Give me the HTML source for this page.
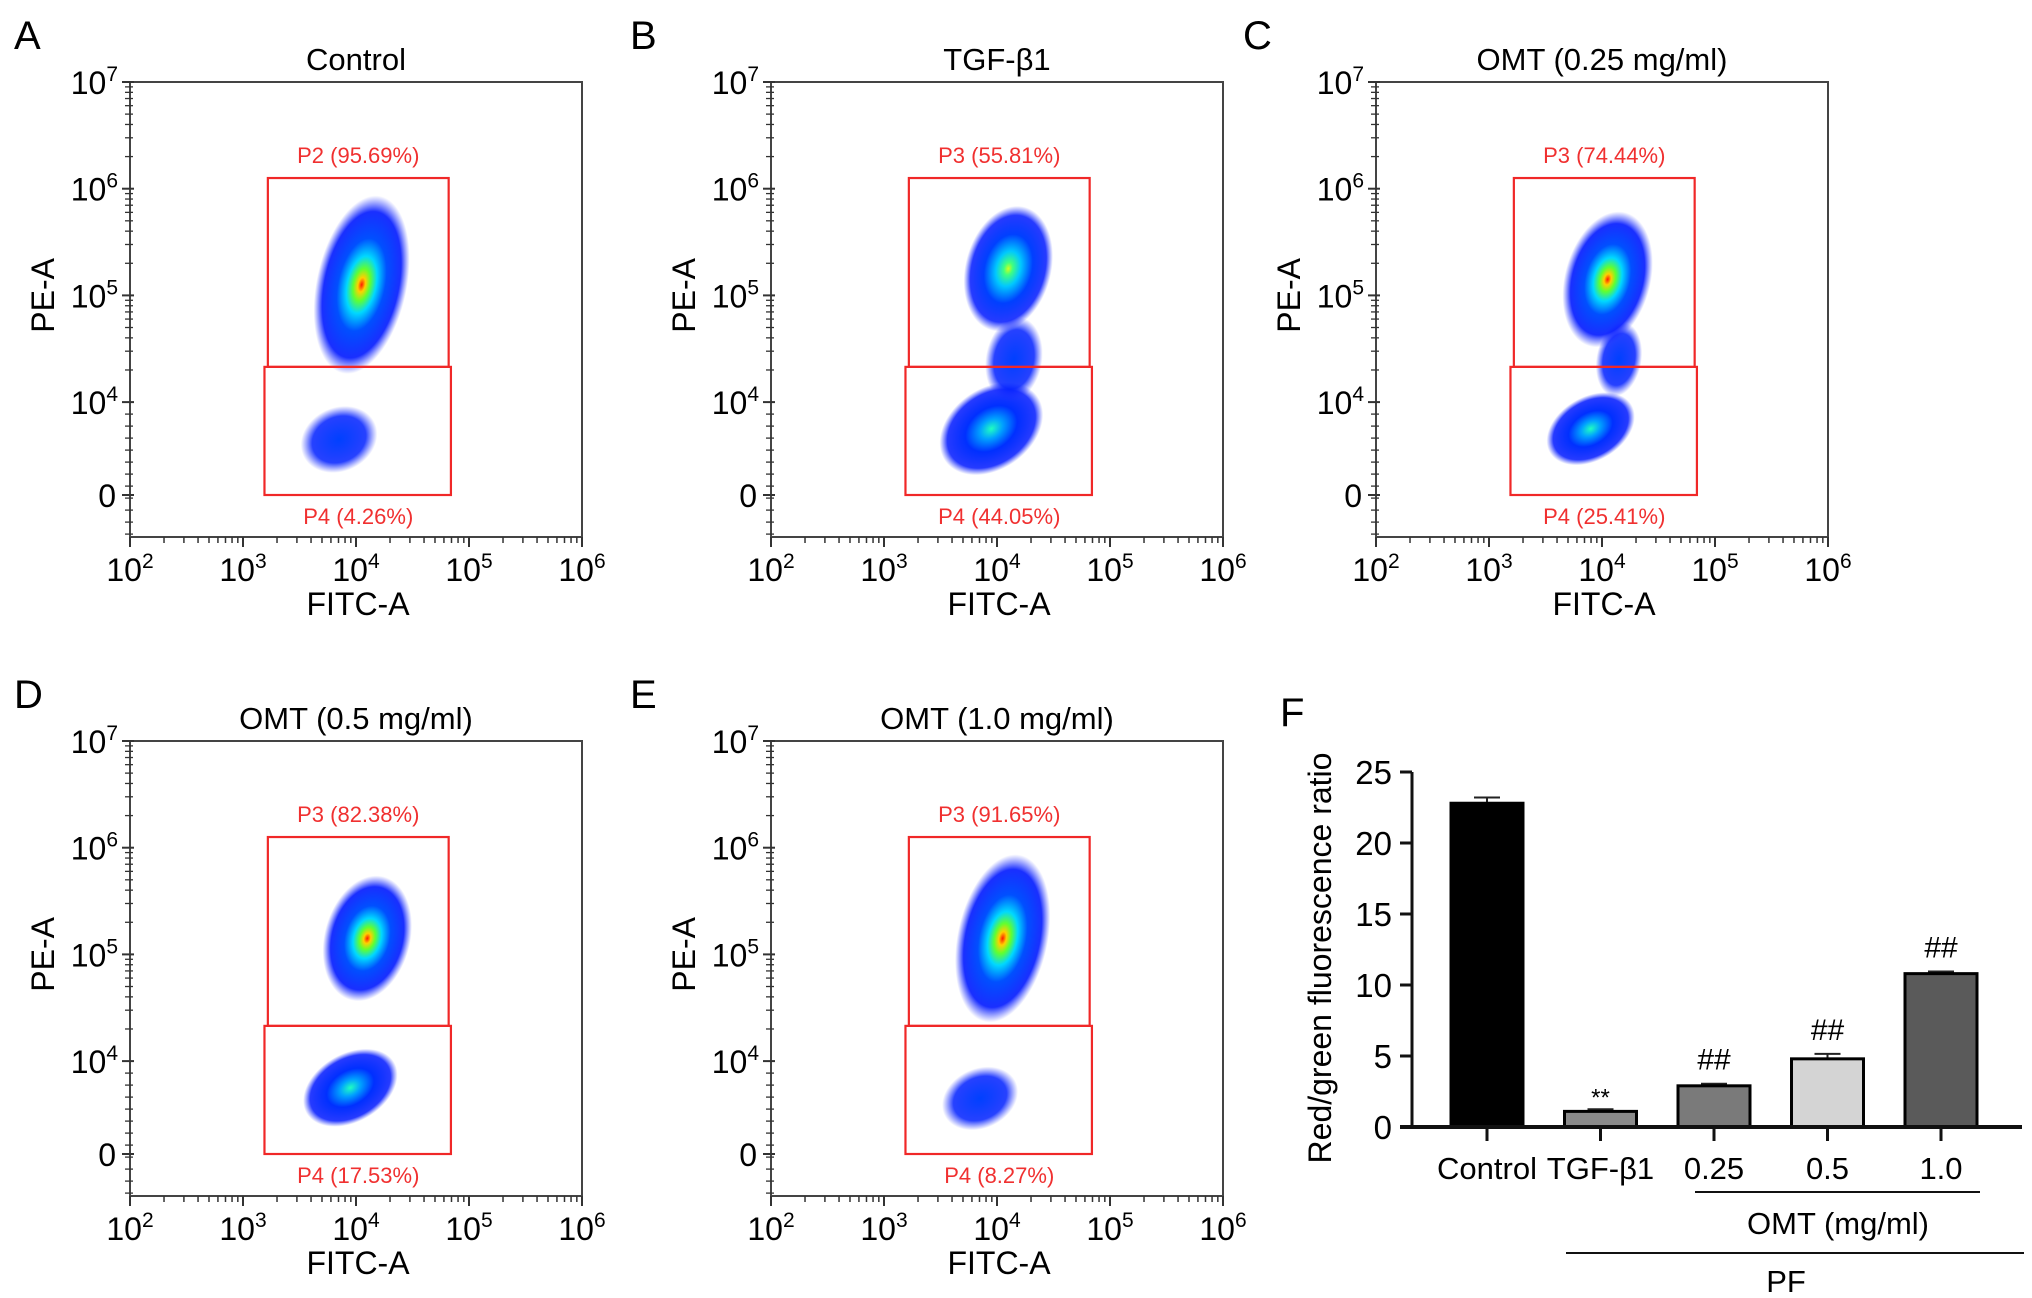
<!DOCTYPE html>
<html><head><meta charset="utf-8">
<style>
html,body{margin:0;padding:0;background:#fff;}
svg{display:block;font-family:"Liberation Sans",Arial,sans-serif;}
</style></head>
<body>
<svg id="fig" width="2032" height="1298" viewBox="0 0 2032 1298" xmlns="http://www.w3.org/2000/svg">
<defs>
<radialGradient id="g-hot"><stop offset="0" stop-color="#ff1a00"/><stop offset="0.08" stop-color="#ffd000"/><stop offset="0.18" stop-color="#60ff30"/><stop offset="0.32" stop-color="#00d8ff"/><stop offset="0.52" stop-color="#0050ff"/><stop offset="0.82" stop-color="#0018ff" stop-opacity="0.9"/><stop offset="1" stop-color="#2030ff" stop-opacity="0"/></radialGradient>
<radialGradient id="g-warm"><stop offset="0" stop-color="#d0ff20"/><stop offset="0.1" stop-color="#40ff80"/><stop offset="0.28" stop-color="#00c8ff"/><stop offset="0.55" stop-color="#0040ff"/><stop offset="0.85" stop-color="#0018ff" stop-opacity="0.85"/><stop offset="1" stop-color="#2030ff" stop-opacity="0"/></radialGradient>
<radialGradient id="g-cool"><stop offset="0" stop-color="#20ffc0"/><stop offset="0.22" stop-color="#00a0ff"/><stop offset="0.5" stop-color="#0030ff"/><stop offset="0.85" stop-color="#0018ff" stop-opacity="0.85"/><stop offset="1" stop-color="#2030ff" stop-opacity="0"/></radialGradient>
<radialGradient id="g-blue"><stop offset="0" stop-color="#0040ff"/><stop offset="0.7" stop-color="#0020ff" stop-opacity="0.85"/><stop offset="1" stop-color="#2030ff" stop-opacity="0"/></radialGradient>
</defs>
<g id="root"></g>
</svg>
<script>
// ---- Flow cytometry data (log10 units) ----
const panelKeys = ['A','B','C','D','E'];
const panelTitles = ['Control','TGF-β1','OMT (0.25 mg/ml)','OMT (0.5 mg/ml)','OMT (1.0 mg/ml)'];
const upperLabels = ['P2 (95.69%)','P3 (55.81%)','P3 (74.44%)','P3 (82.38%)','P3 (91.65%)'];
const lowerLabels = ['P4 (4.26%)','P4 (44.05%)','P4 (25.41%)','P4 (17.53%)','P4 (8.27%)'];
// clusters per panel: [logX, logY, spreadX(dec), spreadY(dec), tiltDeg, gradient]
const clustersA = [[3.85,3.65,0.35,0.3,-25,'blue'],[4.05,5.1,0.4,0.85,12,'hot']];
const clustersB = [[3.95,3.75,0.5,0.38,-35,'cool'],[4.15,4.4,0.25,0.4,10,'blue'],[4.1,5.25,0.38,0.6,15,'warm']];
const clustersC = [[3.9,3.75,0.42,0.3,-30,'cool'],[4.15,4.4,0.2,0.35,10,'blue'],[4.05,5.15,0.38,0.65,15,'hot']];
const clustersD = [[3.95,3.75,0.45,0.32,-30,'cool'],[4.1,5.15,0.38,0.6,15,'hot']];
const clustersE = [[3.85,3.65,0.35,0.28,-25,'blue'],[4.05,5.15,0.4,0.8,12,'hot']];
const clusterSets = [clustersA,clustersB,clustersC,clustersD,clustersE];
const gateUpper = [3.22,4.82,6.1,4.33];   // xmin,xmax,ymax,ymin (log)
const gateLower = [3.19,4.84,4.33];       // xmin,xmax,ymax (ymin = 0)
const xTickExps = [2,3,4,5,6];
const yTickExps = [7,6,5,4];

// ---- Bar chart data ----
const barCategories = ['Control','TGF-β1','0.25','0.5','1.0'];
const barValues = [22.8,1.1,2.9,4.8,10.8];
const barErrors = [0.4,0.15,0.15,0.35,0.15];
const barSig = ['','**','##','##','##'];
const barColors = ['#000000','#8a8a8a','#7a7a7a','#d4d4d4','#5a5a5a'];
const barYTicks = [0,5,10,15,20,25];

const NS='http://www.w3.org/2000/svg';
const root=document.getElementById('root');
function el(tag,attrs,parent,text){const e=document.createElementNS(NS,tag);for(const k in attrs)e.setAttribute(k,attrs[k]);if(text!==undefined)e.textContent=text;(parent||root).appendChild(e);return e;}

// layout (not data)
const layout=[[130,82,14,49],[771,82,630,49],[1376,82,1243,49],[130,741,14,708],[771,741,630,708]];
const PW=452, PH=455, DX=113, DY=106.7, ZERO=413;
function xs(l){return (l-2)*DX;}
function ys(l){return (7-l)*DY;}

panelKeys.forEach((key,i)=>{
  const [ox,oy,lx,ly]=layout[i];
  const letter=el('text',{x:lx,y:ly,'font-size':40},root,key);
  
  
  const g=el('g',{transform:`translate(${ox},${oy})`});
  
  
  const t=el('text',{x:PW/2,y:-12,'font-size':31,'text-anchor':'middle'},g,panelTitles[i]);
  
  
  clusterSets[i].forEach(c=>{
    const cx=xs(c[0]), cy=ys(c[1]);
    const e=el('ellipse',{cx:cx,cy:cy,rx:c[2]*DX,ry:c[3]*DY,fill:`url(#g-${c[5]})`,transform:`rotate(${c[4]} ${cx} ${cy})`},g);
    
    
  });
  const gu=el('rect',{x:xs(gateUpper[0]),y:ys(gateUpper[2]),width:xs(gateUpper[1])-xs(gateUpper[0]),height:ys(gateUpper[3])-ys(gateUpper[2]),fill:'none',stroke:'#f02828','stroke-width':2.2},g);
  
  
  const gl=el('rect',{x:xs(gateLower[0]),y:ys(gateLower[2]),width:xs(gateLower[1])-xs(gateLower[0]),height:ZERO-ys(gateLower[2]),fill:'none',stroke:'#f02828','stroke-width':2.2},g);
  
  
  const gcx=(xs(gateUpper[0])+xs(gateUpper[1]))/2;
  const ul=el('text',{x:gcx,y:ys(gateUpper[2])-15,'font-size':22,fill:'#f03030','text-anchor':'middle'},g,upperLabels[i]);
  
  
  const ll=el('text',{x:gcx,y:ZERO+29,'font-size':22,fill:'#f03030','text-anchor':'middle'},g,lowerLabels[i]);
  
  
  const fr=el('rect',{x:0,y:0,width:PW,height:PH,fill:'none',stroke:'#444','stroke-width':2},g);
  
  
  xTickExps.forEach((ex,j)=>{
    const x=xs(ex);
    el('line',{x1:x,y1:PH,x2:x,y2:PH+10,stroke:'#333','stroke-width':2},g);
    const tl=el('text',{x:x,y:PH+44,'font-size':32,'text-anchor':'middle'},g);
    
    
    el('tspan',{},tl,'10');
    el('tspan',{dy:-13,'font-size':21},tl,String(ex));
    if(j<xTickExps.length-1){for(let k=2;k<10;k++){const xm=xs(ex+Math.log10(k));el('line',{x1:xm,y1:PH,x2:xm,y2:PH+6,stroke:'#333','stroke-width':1.5},g);}}
  });
  yTickExps.forEach((ex,j)=>{
    const y=ys(ex);
    el('line',{x1:-8,y1:y,x2:4,y2:y,stroke:'#333','stroke-width':2},g);
    const tl=el('text',{x:-12,y:y+12,'font-size':32,'text-anchor':'end'},g);
    
    
    el('tspan',{},tl,'10');
    el('tspan',{dy:-13,'font-size':21},tl,String(ex));
    if(ex>4){for(let k=2;k<10;k++){const ym=ys(ex-1+Math.log10(k));el('line',{x1:-5,y1:ym,x2:3,y2:ym,stroke:'#333','stroke-width':1.3},g);}}
  });
  for(let y=ys(4)+12;y<PH;y+=12){el('line',{x1:-5,y1:y,x2:3,y2:y,stroke:'#333','stroke-width':1.3},g);}
  el('line',{x1:-8,y1:ZERO,x2:4,y2:ZERO,stroke:'#333','stroke-width':2},g);
  const z=el('text',{x:-14,y:ZERO+12,'font-size':32,'text-anchor':'end'},g,'0');
  
  
  const xt=el('text',{x:228,y:PH+78,'font-size':32,'text-anchor':'middle'},g,'FITC-A');
  
  
  const yt=el('text',{x:0,y:0,'font-size':32,'text-anchor':'middle',transform:`translate(-76,${ys(5)}) rotate(-90)`},g,'PE-A');
  
  
});

// ---- Bar chart F ----
const fl=el('text',{x:1280,y:726,'font-size':40},root,'F');


const bg=el('g',{});


const AX=1412, Y0=1127, UNIT=(1127-772)/25, CX0=1487, STEP=113.5, BW=72;
function by(v){return Y0-v*UNIT;}
function bx(i){return CX0+i*STEP;}
barYTicks.forEach(v=>{
  el('line',{x1:AX-12,y1:by(v),x2:AX,y2:by(v),stroke:'#111','stroke-width':3},bg);
  const t=el('text',{x:AX-20,y:by(v)+12,'font-size':33,'text-anchor':'end'},bg,String(v));
  
  
});
barValues.forEach((v,i)=>{
  const cx=bx(i);
  const eb=el('g',{},bg);
  
  
  el('line',{x1:cx,y1:by(v),x2:cx,y2:by(v+barErrors[i]),stroke:'#222','stroke-width':2},eb);
  el('line',{x1:cx-13,y1:by(v+barErrors[i]),x2:cx+13,y2:by(v+barErrors[i]),stroke:'#222','stroke-width':2},eb);
  const r=el('rect',{x:cx-BW/2,y:by(v),width:BW,height:Y0-by(v),fill:barColors[i],stroke:'#000','stroke-width':3},bg);
  
  
  el('line',{x1:cx,y1:Y0,x2:cx,y2:Y0+14,stroke:'#111','stroke-width':3},bg);
  const cl=el('text',{x:cx,y:Y0+52,'font-size':31,'text-anchor':'middle'},bg,barCategories[i]);
  
  
  if(barSig[i]){
    const s=el('text',{x:cx,y:by(v+barErrors[i])-(barSig[i]==='**'?4:14),'font-size':barSig[i]==='**'?24:30,'text-anchor':'middle'},bg,barSig[i]);
    
    
  }
});
el('line',{x1:AX,y1:by(25),x2:AX,y2:Y0+1,stroke:'#111','stroke-width':3},bg);
el('line',{x1:AX-12,y1:Y0,x2:2022,y2:Y0,stroke:'#111','stroke-width':4},bg);
const byt=el('text',{x:0,y:0,'font-size':32,'text-anchor':'middle',transform:'translate(1331,958) rotate(-90)'},bg,'Red/green fluorescence ratio');


el('line',{x1:1695,y1:1192,x2:1980,y2:1192,stroke:'#111','stroke-width':2},bg);
const omt=el('text',{x:1838,y:1234,'font-size':31,'text-anchor':'middle'},bg,'OMT (mg/ml)');


el('line',{x1:1566,y1:1253,x2:2024,y2:1253,stroke:'#111','stroke-width':2},bg);
const pf=el('text',{x:1786,y:1292,'font-size':31,'text-anchor':'middle'},bg,'PF');


</script>
</body></html>
